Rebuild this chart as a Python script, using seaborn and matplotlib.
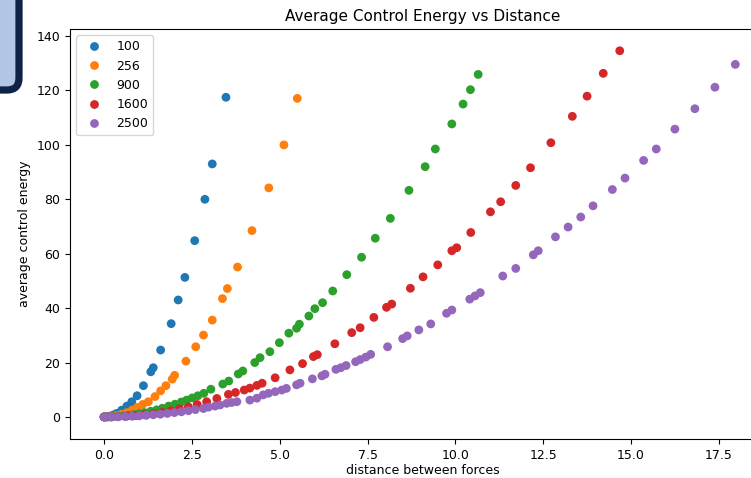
import matplotlib
matplotlib.use("Agg")
import matplotlib.pyplot as plt
import matplotlib.patches as mpatches
import seaborn as sns
import pandas as pd

# number of forces -> (distance, energy)
labels = ["100", "256", "900", "1600", "2500"]

x_100 = [0.0, 0.04, 0.09, 0.17, 0.26, 0.36, 0.50, 0.65, 0.79, 0.94, 1.12, 1.33, 1.40, 1.61, 1.91, 2.11, 2.30, 2.58, 2.87, 3.08, 3.47]
y_100 = [0.0, 0.0, 0.1, 0.3, 0.7, 1.3, 2.5, 4.0, 5.6, 7.8, 11.5, 16.6, 18.1, 24.6, 34.3, 43.0, 51.3, 64.8, 80.0, 93.0, 117.5]

x_256 = [0.0, 0.08, 0.2, 0.35, 0.5, 0.65, 0.8, 0.95, 1.1, 1.26, 1.45, 1.61, 1.76, 1.94, 2.01, 2.33, 2.61, 2.83, 3.08, 3.37, 3.51, 3.80, 4.21, 4.69, 5.12, 5.50]
y_256 = [0.0, 0.0, 0.15, 0.5, 1.0, 1.6, 2.5, 3.5, 4.6, 5.6, 7.5, 9.6, 11.5, 13.9, 15.3, 20.5, 25.8, 30.1, 35.6, 43.5, 47.2, 55.1, 68.5, 84.2, 100.0, 117.1]

x_900 = [0.0, 0.1, 0.25, 0.4, 0.55, 0.7, 0.85, 1.0, 1.15, 1.33, 1.5, 1.66, 1.84, 2.02, 2.20, 2.35, 2.51, 2.67, 2.84, 3.04, 3.38, 3.55, 3.82, 3.95, 4.29, 4.44, 4.72, 4.99, 5.26, 5.48, 5.56, 5.83, 6.00, 6.22, 6.51, 6.91, 7.33, 7.72, 8.15, 8.68, 9.14, 9.43, 9.90, 10.22, 10.43, 10.65]
y_900 = [0.0, 0.0, 0.1, 0.2, 0.4, 0.6, 0.9, 1.2, 1.6, 2.1, 2.6, 3.2, 4.0, 4.7, 5.5, 6.2, 7.0, 7.8, 8.7, 10.2, 12.1, 13.2, 15.8, 16.9, 20.0, 21.8, 24.0, 27.3, 30.8, 32.6, 34.1, 37.1, 39.8, 42.0, 46.3, 52.3, 58.7, 65.7, 73.0, 83.3, 92.0, 98.5, 107.7, 115.0, 120.3, 125.9]

x_1600 = [0.0, 0.2, 0.4, 0.65, 0.9, 1.15, 1.4, 1.65, 1.9, 2.15, 2.4, 2.65, 2.92, 3.21, 3.54, 3.74, 3.99, 4.15, 4.35, 4.50, 4.87, 5.29, 5.65, 5.96, 6.07, 6.57, 7.05, 7.29, 7.68, 8.04, 8.19, 8.72, 9.08, 9.50, 9.90, 10.04, 10.44, 11.00, 11.29, 11.72, 12.14, 12.72, 13.33, 13.75, 14.21, 14.68]
y_1600 = [0.0, 0.0, 0.1, 0.3, 0.5, 0.8, 1.2, 1.7, 2.3, 3.0, 3.7, 4.6, 5.6, 6.8, 8.3, 9.0, 9.9, 10.6, 11.6, 12.4, 14.4, 17.3, 19.6, 22.2, 22.9, 26.9, 31.0, 32.8, 36.6, 40.3, 41.5, 47.3, 51.5, 55.9, 61.1, 62.2, 67.8, 75.4, 79.1, 85.1, 91.6, 100.8, 110.5, 117.9, 126.3, 134.6]

x_2500 = [0.0, 0.2, 0.4, 0.6, 0.8, 1.0, 1.2, 1.4, 1.6, 1.8, 2.0, 2.2, 2.4, 2.6, 2.83, 2.97, 3.16, 3.30, 3.49, 3.63, 3.78, 4.15, 4.35, 4.53, 4.68, 4.87, 5.06, 5.19, 5.48, 5.58, 5.93, 6.20, 6.29, 6.60, 6.74, 6.89, 7.16, 7.29, 7.45, 7.59, 8.07, 8.50, 8.63, 8.96, 9.30, 9.75, 9.90, 10.41, 10.56, 10.71, 11.35, 11.72, 12.22, 12.36, 12.85, 13.21, 13.57, 13.92, 14.47, 14.83, 15.36, 15.72, 16.25, 16.82, 17.39, 17.97]
y_2500 = [0.0, 0.0, 0.06, 0.14, 0.26, 0.4, 0.6, 0.8, 1.0, 1.3, 1.6, 1.9, 2.3, 2.7, 3.1, 3.6, 4.0, 4.4, 5.0, 5.3, 5.6, 6.2, 6.9, 8.1, 8.7, 9.3, 9.9, 10.5, 11.8, 12.4, 14.0, 15.1, 15.7, 17.5, 18.1, 18.9, 20.3, 21.1, 22.0, 23.0, 25.8, 28.8, 29.8, 32.0, 34.2, 38.1, 39.3, 43.3, 44.5, 45.7, 51.8, 54.6, 59.6, 61.1, 66.2, 69.8, 73.5, 77.6, 83.6, 87.8, 94.3, 98.5, 105.8, 113.3, 121.2, 129.6]

xs = [x_100, x_256, x_900, x_1600, x_2500]
ys = [y_100, y_256, y_900, y_1600, y_2500]

frames = []
for lab, x, y in zip(labels, xs, ys):
    frames.append(pd.DataFrame({"distance": x, "energy": y, "forces": lab}))
df = pd.concat(frames, ignore_index=True)

fig = plt.figure(figsize=(7.51, 4.78), dpi=100)
# the original figure was cropped on the right, so the axes run past the edge
ax = fig.add_axes([70 / 751, 1 - 439 / 478, 705 / 751, 410 / 478])

sns.scatterplot(data=df, x="distance", y="energy", hue="forces", hue_order=labels,
                palette=sns.color_palette("tab10", 5), s=40, linewidth=0, ax=ax)

ax.set_xlim(-0.97, 19.1)
ax.set_ylim(-8.1, 142.6)
ax.set_xticks([0, 2.5, 5, 7.5, 10, 12.5, 15, 17.5])
ax.set_xticklabels(["0.0", "2.5", "5.0", "7.5", "10.0", "12.5", "15.0", "17.5"])
ax.set_title("Average Control Energy vs Distance", fontsize=11)
ax.set_xlabel("distance between forces", fontsize=9, labelpad=1.5)
ax.set_ylabel("average control energy", fontsize=9)
ax.tick_params(labelsize=9)
leg = ax.legend(loc="upper left", fontsize=9, title=None)

# blue box sticking in at the top left corner
box = mpatches.FancyBboxPatch((-40, 478 - 90), 59, 140,
                              boxstyle="round,pad=0,rounding_size=12",
                              facecolor="#b4c6e5", edgecolor="#0e2248",
                              linewidth=5.2, transform=None, clip_on=False)
fig.patches.append(box)

fig.savefig("out.png", dpi=100)
